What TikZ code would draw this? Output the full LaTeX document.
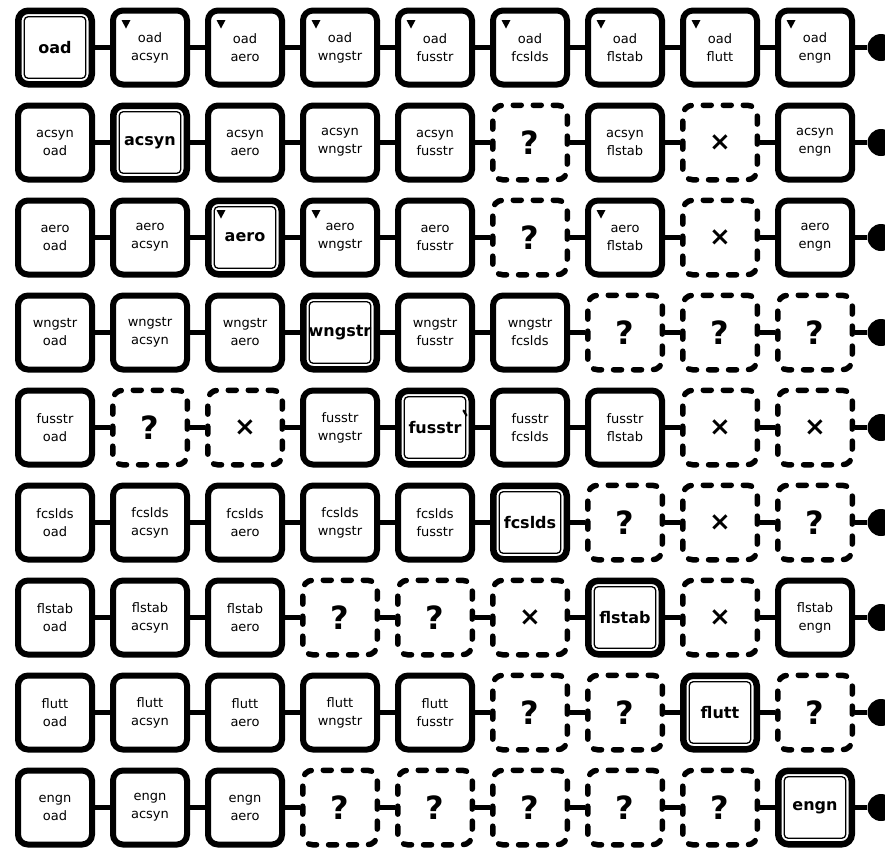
\documentclass[tikz,border=0pt]{standalone}
\usepackage{fontspec}
\setmainfont{DejaVu Sans}
\newcommand\modname[1]{\ifcase#1\or oad\or acsyn\or aero\or wngstr\or fusstr\or fcslds\or flstab\or flutt\or engn\fi}
\tikzset{
  cellbox/.style={draw, fill=white, line width=6pt, rounded corners=10pt,
    minimum width=74pt, minimum height=74pt, inner sep=0pt, align=center,
    font={\fontsize{13}{18}\selectfont}},
  diagbox/.style={cellbox, line width=6.5pt, minimum width=73.5pt, minimum height=73.5pt,
    font={\fontsize{16}{18}\selectfont\bfseries}},
  emptybox/.style={cellbox, line width=5.5pt, dash pattern=on 8pt off 12pt, dash phase=4pt,
    line cap=round, minimum width=74.5pt, minimum height=74.5pt},
  qtext/.style={font={\fontsize{32}{32}\selectfont\bfseries}},
  xtext/.style={font={\fontsize{26}{26}\selectfont\bfseries}},
  innerline/.style={line width=1.3pt, rounded corners=4pt},
  conn/.style={line width=4.5pt},
  dotnode/.style={circle, fill=black, draw=none, minimum size=27pt, inner sep=0pt},
  tri/.style={fill=black}
}
\newcommand\celltri[1]{\fill[tri] ([shift={(11.5pt,-12.5pt)}]#1.north west) -- ++(9pt,0pt) -- ++(-4.5pt,-8.5pt) -- cycle;}
\newcommand\cellinner[1]{\draw[innerline] ([shift={(9.2pt,9.2pt)}]#1.south west) rectangle ([shift={(-9.2pt,-9.2pt)}]#1.north east);}
\newcommand\drawcell[3]{%
  \if#1Q\node[emptybox,qtext] (c-#2-#3) at ({55+95*(#3-1)},{47.5+95*(#2-1)}) {?};\fi
  \if#1X\node[emptybox,xtext] (c-#2-#3) at ({55+95*(#3-1)},{47.5+95*(#2-1)}) {×};\fi
  \if#1N\node[cellbox] (c-#2-#3) at ({55+95*(#3-1)},{47.5+95*(#2-1)}) {\modname{#2}\\\modname{#3}};\fi
  \if#1T\node[cellbox] (c-#2-#3) at ({55+95*(#3-1)},{47.5+95*(#2-1)}) {\modname{#2}\\\modname{#3}};\celltri{c-#2-#3}\fi
  \if#1D\node[diagbox] (c-#2-#3) at ({55+95*(#3-1)},{47.5+95*(#2-1)}) {\modname{#2}};\cellinner{c-#2-#3}\fi
  \if#1A\node[diagbox] (c-#2-#3) at ({55+95*(#3-1)},{47.5+95*(#2-1)}) {\modname{#2}};\cellinner{c-#2-#3}\celltri{c-#2-#3}\fi
  \if#1B\node[diagbox] (c-#2-#3) at ({55+95*(#3-1)},{47.5+95*(#2-1)}) {\modname{#2}};\cellinner{c-#2-#3}%
    \draw[line width=2.2pt, line cap=round] ([shift={(-11.5pt,-23pt)}]c-#2-#3.north east) -- ++(3pt,-5pt);\fi
}
\begin{document}
\begin{tikzpicture}[x=1pt,y=-1pt]
\path[use as bounding box] (0,0) rectangle (885,847);
\foreach [count=\r] \row in {
  {D,T,T,T,T,T,T,T,T},
  {N,D,N,N,N,Q,N,X,N},
  {N,N,A,T,N,Q,T,X,N},
  {N,N,N,D,N,N,Q,Q,Q},
  {N,Q,X,N,B,N,N,X,X},
  {N,N,N,N,N,D,Q,X,Q},
  {N,N,N,Q,Q,X,D,X,N},
  {N,N,N,N,N,Q,Q,D,Q},
  {N,N,N,Q,Q,Q,Q,Q,D}} {
  \foreach [count=\c] \t in \row {
    \drawcell{\t}{\r}{\c}
  }
}
\foreach \r in {1,...,9} {
  \foreach \c [evaluate=\c as \n using int(\c+1)] in {1,...,8} {
    \draw[conn] (c-\r-\c) -- (c-\r-\n);
  }
  \node[dotnode] (dot-\r) at (881,{47.5+95*(\r-1)}) {};
  \draw[conn] (c-\r-9) -- (dot-\r);
}
\end{tikzpicture}
\end{document}
